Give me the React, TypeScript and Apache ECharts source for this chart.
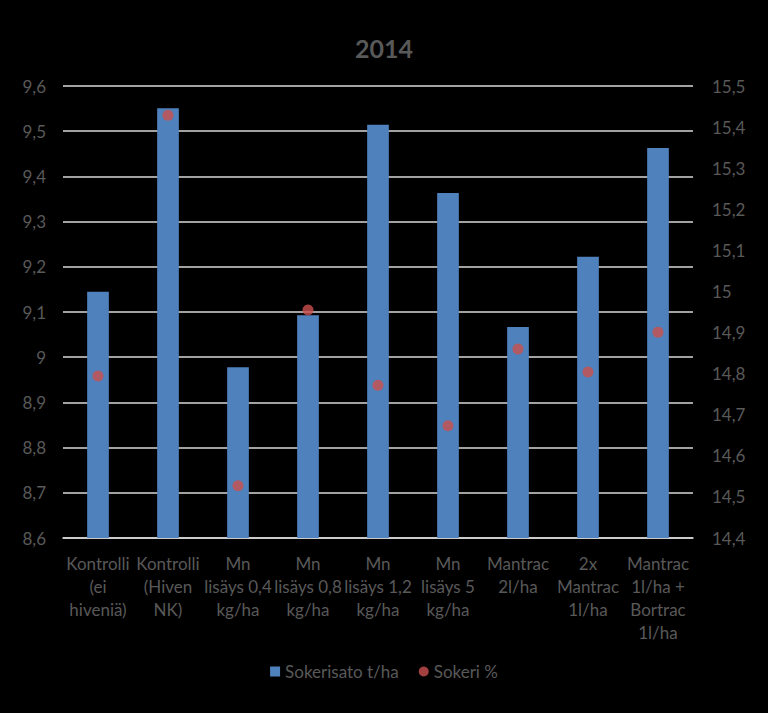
import React, { useEffect, useRef } from "react";
import * as echarts from "echarts";

const categories = [
  "Kontrolli\n(ei\nhiveniä)",
  "Kontrolli\n(Hiven\nNK)",
  "Mn\nlisäys 0,4\nkg/ha",
  "Mn\nlisäys 0,8\nkg/ha",
  "Mn\nlisäys 1,2\nkg/ha",
  "Mn\nlisäys 5\nkg/ha",
  "Mantrac\n2l/ha",
  "2x\nMantrac\n1l/ha",
  "Mantrac\n1l/ha +\nBortrac\n1l/ha",
];
const sokerisato = [9.145, 9.551, 8.978, 9.093, 9.514, 9.363, 9.067, 9.222, 9.463];
const sokeri = [14.794, 15.429, 14.527, 14.955, 14.772, 14.673, 14.86, 14.804, 14.901];

const fmt = (v: number) => String(Number(v.toFixed(1))).replace(".", ",");

export default function App() {
  const ref = useRef<HTMLDivElement>(null);
  useEffect(() => {
    const chart = echarts.init(ref.current!, null, { renderer: "svg" });
    const font = "Lato, 'Open Sans', sans-serif";
    chart.setOption({
      animation: false,
      backgroundColor: "#000000",
      title: {
        text: "2014",
        left: "center",
        top: 30,
        textStyle: { color: "#595959", fontSize: 25, fontWeight: "bold", fontFamily: font },
      },
      legend: {
        bottom: 28,
        left: "center",
        itemGap: 20,
        itemWidth: 10,
        itemHeight: 10,
        textStyle: { color: "#595959", fontSize: 17, fontFamily: font },
        data: [
          { name: "Sokerisato t/ha", icon: "rect" },
          { name: "Sokeri %", icon: "circle" },
        ],
      },
      grid: { left: 63, right: 75, top: 86, bottom: 175 },
      xAxis: {
        type: "category",
        data: categories,
        axisLine: { lineStyle: { color: "#d9d9d9", width: 1.5 } },
        axisTick: { show: false },
        axisLabel: {
          color: "#595959",
          fontSize: 17,
          fontFamily: font,
          lineHeight: 23,
          interval: 0,
          margin: 14,
        },
      },
      yAxis: [
        {
          type: "value",
          min: 8.6,
          max: 9.6,
          interval: 0.1,
          axisLine: { show: false },
          axisTick: { show: false },
          splitLine: { lineStyle: { color: "#d9d9d9", width: 1.5 } },
          axisLabel: { color: "#595959", fontSize: 17, fontFamily: font, formatter: fmt, margin: 17 },
        },
        {
          type: "value",
          min: 14.4,
          max: 15.5,
          interval: 0.1,
          axisLine: { show: false },
          axisTick: { show: false },
          splitLine: { show: false },
          axisLabel: { color: "#595959", fontSize: 17, fontFamily: font, formatter: fmt, margin: 19 },
        },
      ],
      series: [
        {
          name: "Sokerisato t/ha",
          type: "bar",
          data: sokerisato,
          barWidth: "31%",
          itemStyle: { color: "#4f81bd" },
          yAxisIndex: 0,
        },
        {
          name: "Sokeri %",
          type: "scatter",
          data: sokeri,
          yAxisIndex: 1,
          symbol: "circle",
          symbolSize: 11,
          itemStyle: { color: "#c9504d" },
        },
      ],
    });
    return () => chart.dispose();
  }, []);
  return <div ref={ref} style={{ width: 768, height: 713, position: "absolute", left: 0, top: 0 }} />;
}
